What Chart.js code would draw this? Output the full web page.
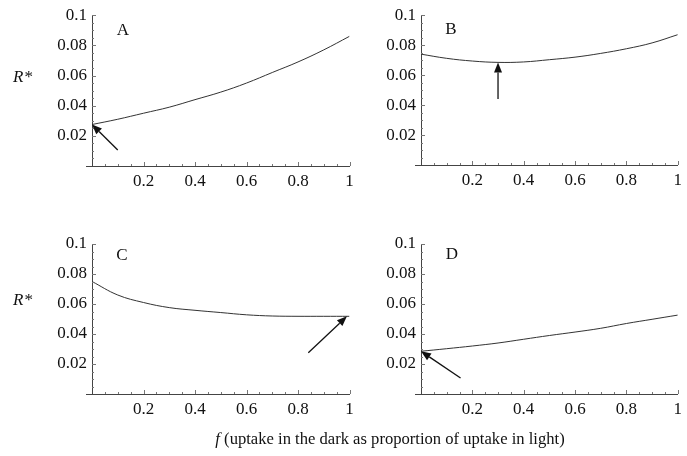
<!DOCTYPE html>
<html>
<head>
<meta charset="utf-8">
<script src="https://cdn.jsdelivr.net/npm/chart.js@4/dist/chart.umd.min.js"></script>
<style>
  html, body { margin: 0; padding: 0; background: #fff; }
  #wrap { position: relative; width: 687px; height: 456px; overflow: hidden; }
  canvas { position: absolute; left: 0; top: 0; }
  .lbl { position: absolute; font-family: "Liberation Serif", "DejaVu Serif", serif; color: #111; white-space: nowrap; transform: translate(-50%, -50%); line-height: 1; }
</style>
</head>
<body>
<div id="wrap">
  <canvas id="cA" width="687" height="456"></canvas>
  <canvas id="cB" width="687" height="456"></canvas>
  <canvas id="cC" width="687" height="456"></canvas>
  <canvas id="cD" width="687" height="456"></canvas>
  <div class="lbl" style="left:123px;top:29px;font-size:17px;">A</div>
  <div class="lbl" style="left:451px;top:28px;font-size:17px;">B</div>
  <div class="lbl" style="left:122px;top:254px;font-size:17px;">C</div>
  <div class="lbl" style="left:452px;top:253px;font-size:17px;">D</div>
  <div class="lbl" style="left:23px;top:76px;font-size:17px;font-style:italic;">R<span style="font-style:normal;margin-left:1px">*</span></div>
  <div class="lbl" style="left:23px;top:299px;font-size:17px;font-style:italic;">R<span style="font-style:normal;margin-left:1px">*</span></div>
  <div class="lbl" style="left:390px;top:439px;font-size:16.6px;"><i>f</i> (uptake in the dark as proportion of uptake in light)</div>
</div>
<script>
// ---- data ----
const fValues = [0, 0.1, 0.2, 0.3, 0.4, 0.5, 0.6, 0.7, 0.8, 0.9, 1.0];
const seriesA = [0.0275, 0.031, 0.035, 0.039, 0.044, 0.049, 0.055, 0.062, 0.069, 0.077, 0.086];
const seriesB = [0.074, 0.0712, 0.0694, 0.0685, 0.0688, 0.0703, 0.072, 0.0745, 0.0776, 0.0815, 0.087];
const seriesC = [0.075, 0.066, 0.061, 0.0576, 0.0558, 0.0543, 0.0528, 0.052, 0.0518, 0.0518, 0.0518];
const seriesD = [0.0285, 0.0302, 0.032, 0.034, 0.0365, 0.039, 0.0413, 0.0438, 0.047, 0.0498, 0.0526];
const yTicks = [0.02, 0.04, 0.06, 0.08, 0.1];
const xTicks = [0.2, 0.4, 0.6, 0.8, 1];
// arrows: [tail f, tail R*, head f, head R*]
const arrowA = [0.10, 0.0106, 0.0, 0.0276];
const arrowB = [0.30, 0.044, 0.30, 0.0685];
const arrowC = [0.84, 0.0275, 0.99, 0.0518];
const arrowD = [0.154, 0.0107, 0.0, 0.0285];

const FONT = "'Liberation Serif', 'DejaVu Serif', serif";

const decorPlugin = {
  id: 'decor',
  afterDatasetsDraw(chart, args, opts) {
    const ctx = chart.ctx;
    const xs = chart.scales.x, ys = chart.scales.y;
    const area = chart.chartArea;
    ctx.save();
    // inward ticks
    ctx.strokeStyle = '#777';
    ctx.lineWidth = 1;
    for (let i = 1; i <= 20; i++) {
      const v = i * 0.05;
      const px = Math.round(xs.getPixelForValue(v)) + 0.5;
      const len = (i % 4 === 0) ? 4 : 2;
      ctx.beginPath(); ctx.moveTo(px, area.bottom); ctx.lineTo(px, area.bottom - len); ctx.stroke();
    }
    for (let i = 1; i <= 20; i++) {
      const v = i * 0.005;
      const py = Math.round(ys.getPixelForValue(v)) + 0.5;
      const len = (i % 4 === 0) ? 4 : 2;
      ctx.beginPath(); ctx.moveTo(area.left, py); ctx.lineTo(area.left + len, py); ctx.stroke();
    }
    // small extension of x axis to the left
    ctx.strokeStyle = '#444';
    ctx.beginPath(); ctx.moveTo(area.left - 6, area.bottom + 0.5); ctx.lineTo(area.left, area.bottom + 0.5); ctx.stroke();
    // arrow
    const a = opts.arrow;
    if (a) {
      const x1 = xs.getPixelForValue(a[0]), y1 = ys.getPixelForValue(a[1]);
      const x2 = xs.getPixelForValue(a[2]), y2 = ys.getPixelForValue(a[3]);
      const ang = Math.atan2(y2 - y1, x2 - x1);
      const hl = 10, hw = 4;
      const bx = x2 - hl * Math.cos(ang), by = y2 - hl * Math.sin(ang);
      ctx.strokeStyle = '#111'; ctx.fillStyle = '#111'; ctx.lineWidth = 1.3;
      ctx.beginPath(); ctx.moveTo(x1, y1); ctx.lineTo(bx, by); ctx.stroke();
      ctx.beginPath();
      ctx.moveTo(x2, y2);
      ctx.lineTo(bx + hw * Math.sin(ang), by - hw * Math.cos(ang));
      ctx.lineTo(bx - hw * Math.sin(ang), by + hw * Math.cos(ang));
      ctx.closePath(); ctx.fill();
    }
    ctx.restore();
  }
};

function makePanel(id, series, arrow, pad) {
  const data = fValues.map((f, i) => ({ x: f, y: series[i] }));
  return new Chart(document.getElementById(id), {
    type: 'line',
    data: { datasets: [{ data, borderColor: '#333', borderWidth: 1, pointRadius: 0, tension: 0.4, fill: false }] },
    options: {
      responsive: false,
      animation: false,
      events: [],
      layout: { padding: pad },
      plugins: { legend: { display: false }, tooltip: { enabled: false }, decor: { arrow } },
      scales: {
        x: {
          type: 'linear', min: 0, max: 1,
          afterBuildTicks: s => { s.ticks = xTicks.map(v => ({ value: v })); },
          afterFit: s => { s.height = 30; },
          grid: { display: true, drawOnChartArea: false, drawTicks: false },
          border: { display: true, color: '#444', width: 1 },
          ticks: { padding: 5, color: '#111', font: { family: FONT, size: 17 }, maxRotation: 0, autoSkip: false,
                   callback: v => String(+v.toFixed(2)) }
        },
        y: {
          type: 'linear', min: 0, max: 0.1,
          afterBuildTicks: s => { s.ticks = yTicks.map(v => ({ value: v })); },
          afterFit: s => { s.width = 50; },
          grid: { display: true, drawOnChartArea: false, drawTicks: false },
          border: { display: true, color: '#444', width: 1 },
          ticks: { padding: 5, color: '#111', font: { family: FONT, size: 17 }, autoSkip: false,
                   callback: v => String(+v.toFixed(2)) }
        }
      }
    },
    plugins: [decorPlugin]
  });
}

makePanel('cA', seriesA, arrowA, { left: 42, right: 337.5, top: 15, bottom: 260 });
makePanel('cB', seriesB, arrowB, { left: 371, right: 9, top: 15, bottom: 261 });
makePanel('cC', seriesC, arrowC, { left: 42, right: 337.5, top: 244, bottom: 32 });
makePanel('cD', seriesD, arrowD, { left: 371, right: 9, top: 244, bottom: 32 });
</script>
</body>
</html>
